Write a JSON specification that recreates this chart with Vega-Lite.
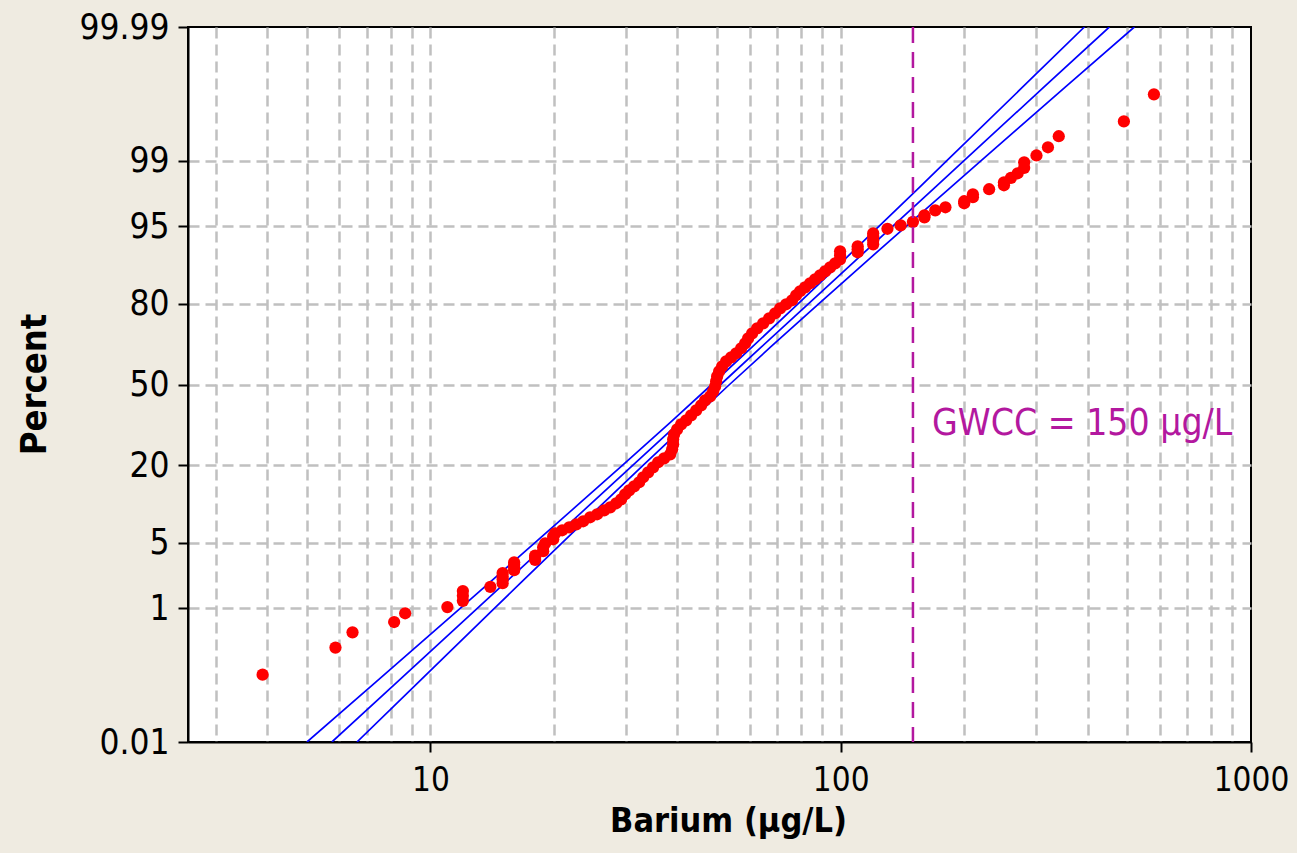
{
  "$schema": "https://vega.github.io/schema/vega-lite/v6.json",
  "width": 1063,
  "height": 715,
  "autosize": {"type": "none"},
  "padding": {"left": 188, "top": 27, "right": 46, "bottom": 111},
  "background": "#EFEBE1",
  "config": {"view": {"fill": "white", "stroke": "black", "strokeWidth": 2}},
  "data": {"values": [
    {"kind":"obs","ba":3.9,"pct":0.127},
    {"kind":"obs","ba":5.87,"pct":0.31},
    {"kind":"obs","ba":6.46,"pct":0.497},
    {"kind":"obs","ba":8.16,"pct":0.674},
    {"kind":"obs","ba":8.68,"pct":0.866},
    {"kind":"obs","ba":11,"pct":1.03},
    {"kind":"obs","ba":12,"pct":1.22},
    {"kind":"obs","ba":12,"pct":1.40},
    {"kind":"obs","ba":12,"pct":1.58},
    {"kind":"obs","ba":14,"pct":1.76},
    {"kind":"obs","ba":15,"pct":1.94},
    {"kind":"obs","ba":15,"pct":2.13},
    {"kind":"obs","ba":15,"pct":2.31},
    {"kind":"obs","ba":15,"pct":2.49},
    {"kind":"obs","ba":16,"pct":2.67},
    {"kind":"obs","ba":16,"pct":2.85},
    {"kind":"obs","ba":16,"pct":3.04},
    {"kind":"obs","ba":16,"pct":3.22},
    {"kind":"obs","ba":18,"pct":3.40},
    {"kind":"obs","ba":18,"pct":3.58},
    {"kind":"obs","ba":18,"pct":3.76},
    {"kind":"obs","ba":18.83,"pct":4.14},
    {"kind":"obs","ba":18.83,"pct":4.52},
    {"kind":"obs","ba":19.04,"pct":4.93},
    {"kind":"obs","ba":19.92,"pct":5.37},
    {"kind":"obs","ba":19.92,"pct":5.72},
    {"kind":"obs","ba":20.14,"pct":6.08},
    {"kind":"obs","ba":20.95,"pct":6.47},
    {"kind":"obs","ba":21.79,"pct":6.87},
    {"kind":"obs","ba":22.67,"pct":7.29},
    {"kind":"obs","ba":23.57,"pct":7.74},
    {"kind":"obs","ba":24.51,"pct":8.36},
    {"kind":"obs","ba":25.49,"pct":8.85},
    {"kind":"obs","ba":26.51,"pct":9.53},
    {"kind":"obs","ba":27.43,"pct":10.07},
    {"kind":"obs","ba":28.37,"pct":10.83},
    {"kind":"obs","ba":29.17,"pct":11.62},
    {"kind":"obs","ba":29.83,"pct":12.67},
    {"kind":"obs","ba":30.51,"pct":13.55},
    {"kind":"obs","ba":31.37,"pct":14.48},
    {"kind":"obs","ba":32.27,"pct":15.45},
    {"kind":"obs","ba":33.0,"pct":16.72},
    {"kind":"obs","ba":33.94,"pct":18.05},
    {"kind":"obs","ba":34.9,"pct":19.45},
    {"kind":"obs","ba":35.9,"pct":20.92},
    {"kind":"obs","ba":37.12,"pct":22.13},
    {"kind":"obs","ba":38.4,"pct":23.39},
    {"kind":"obs","ba":38.83,"pct":25.01},
    {"kind":"obs","ba":39.05,"pct":26.69},
    {"kind":"obs","ba":39.05,"pct":28.43},
    {"kind":"obs","ba":39.26,"pct":30.22},
    {"kind":"obs","ba":39.93,"pct":32.06},
    {"kind":"obs","ba":40.84,"pct":33.94},
    {"kind":"obs","ba":42.01,"pct":35.48},
    {"kind":"obs","ba":43.2,"pct":37.43},
    {"kind":"obs","ba":44.44,"pct":39.42},
    {"kind":"obs","ba":45.69,"pct":41.43},
    {"kind":"obs","ba":46.72,"pct":43.47},
    {"kind":"obs","ba":48.06,"pct":45.11},
    {"kind":"obs","ba":48.87,"pct":47.18},
    {"kind":"obs","ba":49.43,"pct":49.25},
    {"kind":"obs","ba":49.71,"pct":51.33},
    {"kind":"obs","ba":49.99,"pct":53.40},
    {"kind":"obs","ba":50.55,"pct":55.46},
    {"kind":"obs","ba":51.4,"pct":57.51},
    {"kind":"obs","ba":52.58,"pct":59.53},
    {"kind":"obs","ba":54.08,"pct":61.14},
    {"kind":"obs","ba":55.62,"pct":62.73},
    {"kind":"obs","ba":57.2,"pct":64.68},
    {"kind":"obs","ba":58.5,"pct":66.59},
    {"kind":"obs","ba":59.49,"pct":68.46},
    {"kind":"obs","ba":60.84,"pct":70.28},
    {"kind":"obs","ba":62.57,"pct":72.06},
    {"kind":"obs","ba":64.71,"pct":73.78},
    {"kind":"obs","ba":66.93,"pct":75.45},
    {"kind":"obs","ba":69.22,"pct":77.06},
    {"kind":"obs","ba":71.19,"pct":78.60},
    {"kind":"obs","ba":73.61,"pct":79.80},
    {"kind":"obs","ba":76.13,"pct":80.95},
    {"kind":"obs","ba":77.86,"pct":82.33},
    {"kind":"obs","ba":79.62,"pct":83.39},
    {"kind":"obs","ba":81.88,"pct":84.40},
    {"kind":"obs","ba":84.22,"pct":85.38},
    {"kind":"obs","ba":86.61,"pct":86.31},
    {"kind":"obs","ba":89.08,"pct":87.20},
    {"kind":"obs","ba":91.62,"pct":88.05},
    {"kind":"obs","ba":94.23,"pct":88.86},
    {"kind":"obs","ba":96.92,"pct":89.63},
    {"kind":"obs","ba":99.66,"pct":90.36},
    {"kind":"obs","ba":99.66,"pct":91.05},
    {"kind":"obs","ba":99.66,"pct":91.71},
    {"kind":"obs","ba":110,"pct":91.55},
    {"kind":"obs","ba":110,"pct":92.02},
    {"kind":"obs","ba":110,"pct":92.47},
    {"kind":"obs","ba":120,"pct":92.76},
    {"kind":"obs","ba":120,"pct":93.32},
    {"kind":"obs","ba":120,"pct":93.84},
    {"kind":"obs","ba":120,"pct":94.21},
    {"kind":"obs","ba":130,"pct":94.74},
    {"kind":"obs","ba":140,"pct":95.11},
    {"kind":"obs","ba":150,"pct":95.47},
    {"kind":"obs","ba":160,"pct":95.90},
    {"kind":"obs","ba":160,"pct":96.08},
    {"kind":"obs","ba":170,"pct":96.50},
    {"kind":"obs","ba":180,"pct":96.74},
    {"kind":"obs","ba":200,"pct":97.03},
    {"kind":"obs","ba":200,"pct":97.17},
    {"kind":"obs","ba":210,"pct":97.43},
    {"kind":"obs","ba":210,"pct":97.61},
    {"kind":"obs","ba":230,"pct":97.89},
    {"kind":"obs","ba":250,"pct":98.09},
    {"kind":"obs","ba":250,"pct":98.23},
    {"kind":"obs","ba":260,"pct":98.42},
    {"kind":"obs","ba":270,"pct":98.60},
    {"kind":"obs","ba":280,"pct":98.79},
    {"kind":"obs","ba":280,"pct":98.96},
    {"kind":"obs","ba":300,"pct":99.14},
    {"kind":"obs","ba":320,"pct":99.32},
    {"kind":"obs","ba":340,"pct":99.51},
    {"kind":"obs","ba":490,"pct":99.69},
    {"kind":"obs","ba":580,"pct":99.873},
    {"kind":"fit","ba":5.754,"pct":0.01},
    {"kind":"fit","ba":8.321,"pct":0.1},
    {"kind":"fit","ba":13.03,"pct":1},
    {"kind":"fit","ba":15.29,"pct":2},
    {"kind":"fit","ba":19.43,"pct":5},
    {"kind":"fit","ba":24.04,"pct":10},
    {"kind":"fit","ba":31.12,"pct":20},
    {"kind":"fit","ba":40.67,"pct":35},
    {"kind":"fit","ba":50.98,"pct":50},
    {"kind":"fit","ba":63.9,"pct":65},
    {"kind":"fit","ba":83.53,"pct":80},
    {"kind":"fit","ba":108.1,"pct":90},
    {"kind":"fit","ba":133.8,"pct":95},
    {"kind":"fit","ba":170.1,"pct":98},
    {"kind":"fit","ba":199.5,"pct":99},
    {"kind":"fit","ba":312.2,"pct":99.9},
    {"kind":"fit","ba":451.6,"pct":99.99},
    {"kind":"lcl","ba":5.003,"pct":0.01},
    {"kind":"lcl","ba":7.383,"pct":0.1},
    {"kind":"lcl","ba":11.84,"pct":1},
    {"kind":"lcl","ba":14.0,"pct":2},
    {"kind":"lcl","ba":17.99,"pct":5},
    {"kind":"lcl","ba":22.47,"pct":10},
    {"kind":"lcl","ba":29.37,"pct":20},
    {"kind":"lcl","ba":38.63,"pct":35},
    {"kind":"lcl","ba":48.5,"pct":50},
    {"kind":"lcl","ba":60.69,"pct":65},
    {"kind":"lcl","ba":78.81,"pct":80},
    {"kind":"lcl","ba":101.1,"pct":90},
    {"kind":"lcl","ba":123.9,"pct":95},
    {"kind":"lcl","ba":155.8,"pct":98},
    {"kind":"lcl","ba":181.2,"pct":99},
    {"kind":"lcl","ba":277.0,"pct":99.9},
    {"kind":"lcl","ba":392.6,"pct":99.99},
    {"kind":"ucl","ba":6.622,"pct":0.01},
    {"kind":"ucl","ba":9.385,"pct":0.1},
    {"kind":"ucl","ba":14.34,"pct":1},
    {"kind":"ucl","ba":16.69,"pct":2},
    {"kind":"ucl","ba":20.97,"pct":5},
    {"kind":"ucl","ba":25.71,"pct":10},
    {"kind":"ucl","ba":32.98,"pct":20},
    {"kind":"ucl","ba":42.83,"pct":35},
    {"kind":"ucl","ba":53.59,"pct":50},
    {"kind":"ucl","ba":67.3,"pct":65},
    {"kind":"ucl","ba":88.51,"pct":80},
    {"kind":"ucl","ba":115.6,"pct":90},
    {"kind":"ucl","ba":144.4,"pct":95},
    {"kind":"ucl","ba":185.7,"pct":98},
    {"kind":"ucl","ba":219.6,"pct":99},
    {"kind":"ucl","ba":352.0,"pct":99.9},
    {"kind":"ucl","ba":519.6,"pct":99.99},
    {"kind":"gwcc","ba":150,"pct":29.86,"label":"GWCC = 150 µg/L"}
  ]},
  "transform": [{"calculate": "quantileNormal(datum.pct/100)", "as": "z"}],
  "encoding": {
    "x": {
      "field": "ba", "type": "quantitative", "title": "Barium (µg/L)",
      "scale": {"type": "log", "domain": [2.566, 1000], "nice": false},
      "axis": {
        "values": [3,4,5,6,7,8,9,10,20,30,40,50,60,70,80,90,100,200,300,400,500,600,700,800,900,1000],
        "labelExpr": "(datum.value==10||datum.value==100||datum.value==1000) ? format(datum.value,'d') : ''",
        "labelFont": "DejaVu Sans Condensed, DejaVu Sans, sans-serif",
        "labelFontSize": 33, "labelColor": "black", "labelPadding": 12,
        "labelFlush": false, "labelOverlap": false,
        "tickColor": "black", "tickSize": 10, "tickWidth": 2,
        "tickOpacity": {"condition": {"test": "datum.value==10||datum.value==100||datum.value==1000", "value": 1}, "value": 0},
        "domainColor": "black", "domainWidth": 2,
        "grid": true, "gridColor": "#C0C0C0", "gridDash": [11, 6], "gridWidth": 2.5,
        "gridOpacity": {"condition": {"test": "datum.value>=1000", "value": 0}, "value": 1},
        "titleFont": "DejaVu Sans Condensed, DejaVu Sans, sans-serif",
        "titleFontSize": 34, "titleFontWeight": "bold", "titleColor": "black",
        "titleX": 540, "titleY": 89, "titleBaseline": "alphabetic", "titleAlign": "center"
      }
    }
  },
  "layer": [
    {
      "transform": [{"filter": "datum.kind=='fit'||datum.kind=='lcl'||datum.kind=='ucl'"}],
      "mark": {"type": "line", "color": "#0000FF", "strokeWidth": 1.7, "clip": true},
      "encoding": {
        "y": {"field": "z", "type": "quantitative", "title": "Percent", "scale": {"domain": [-3.719016, 3.719016], "nice": false, "zero": false}},
        "detail": {"field": "kind"},
        "order": {"field": "pct", "type": "quantitative"}
      }
    },
    {
      "transform": [{"filter": "datum.kind=='obs'"}],
      "mark": {"type": "circle", "color": "#FF0000", "size": 150, "opacity": 1},
      "encoding": {
        "y": {
          "field": "z", "type": "quantitative", "title": "Percent",
          "scale": {"domain": [-3.719016, 3.719016], "nice": false, "zero": false},
          "axis": {
            "values": [-3.719016, -2.326348, -1.644854, -0.841621, 0, 0.841621, 1.644854, 2.326348, 3.719016],
            "labelExpr": "datum.value < -3 ? '0.01' : (datum.value > 3 ? '99.99' : format(cumulativeNormal(datum.value)*100, '.0f'))",
            "labelFont": "DejaVu Sans Condensed, DejaVu Sans, sans-serif",
            "labelFontSize": 35, "labelColor": "black", "labelPadding": 9,
            "labelFlush": false, "labelOverlap": false,
            "tickColor": "black", "tickSize": 10, "tickWidth": 2,
            "domainColor": "black", "domainWidth": 2,
            "grid": true, "gridColor": "#C0C0C0", "gridDash": [11, 6], "gridWidth": 2.5,
            "gridOpacity": {"condition": {"test": "abs(datum.value) > 3", "value": 0}, "value": 1},
            "titleFont": "DejaVu Sans Condensed, DejaVu Sans, sans-serif",
            "titleFontSize": 36, "titleFontWeight": "bold", "titleColor": "black",
            "titleAngle": -90, "titleX": -143, "titleY": 357,
            "titleAlign": "center", "titleBaseline": "alphabetic"
          }
        }
      }
    },
    {
      "transform": [{"filter": "datum.kind=='gwcc'"}],
      "mark": {"type": "rule", "color": "#B3189F", "strokeWidth": 2.5, "strokeDash": [16, 9]},
      "encoding": {}
    },
    {
      "transform": [{"filter": "datum.kind=='gwcc'"}],
      "mark": {"type": "text", "color": "#B3189F", "fontSize": 37, "font": "DejaVu Sans Condensed, DejaVu Sans, sans-serif", "align": "left", "baseline": "alphabetic", "dx": 19},
      "encoding": {
        "y": {"field": "z", "type": "quantitative", "title": "Percent", "scale": {"domain": [-3.719016, 3.719016], "nice": false, "zero": false}},
        "text": {"field": "label"}
      }
    }
  ]
}
